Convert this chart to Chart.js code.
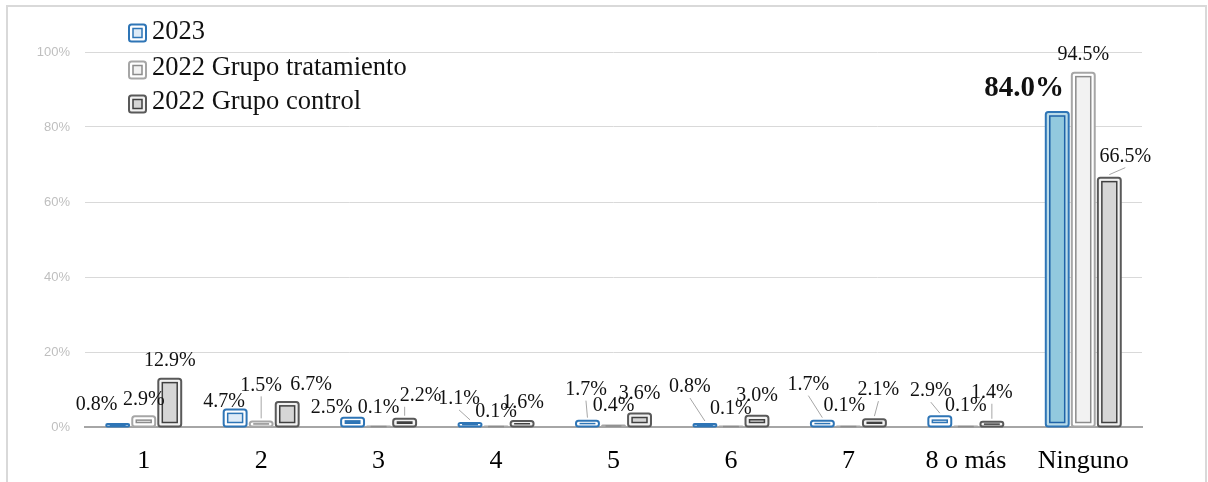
<!DOCTYPE html>
<html>
<head>
<meta charset="utf-8">
<script src="https://cdn.jsdelivr.net/npm/chart.js@4"></script>
<style>
  html, body { margin: 0; padding: 0; background: #ffffff; }
  #wrap { position: relative; width: 1208px; height: 482px; overflow: hidden; }
  #frame { position: absolute; left: 6px; top: 5px; width: 1201px; height: 540px;
           border: 2px solid #d9d9d9; box-sizing: border-box; }
  canvas { position: absolute; left: 0; top: 0; }
</style>
</head>
<body>
<div id="wrap">
  <div id="frame"></div>
  <canvas id="chart" width="1208" height="482"></canvas>
</div>
<script>
// Categories and series values (percent)
const categories = ['1', '2', '3', '4', '5', '6', '7', '8 o más', 'Ninguno'];
const seriesNames = ['2023', '2022 Grupo tratamiento', '2022 Grupo control'];
const values2023 = [0.8, 4.7, 2.5, 1.1, 1.7, 0.8, 1.7, 2.9, 84.0];
const valuesTratamiento = [2.9, 1.5, 0.1, 0.1, 0.4, 0.1, 0.1, 0.1, 94.5];
const valuesControl = [12.9, 6.7, 2.2, 1.6, 3.6, 3.0, 2.1, 1.4, 66.5];
const yTickValues = [0, 20, 40, 60, 80, 100];

// Value-label placement relative to the top centre of each bar [dx, dy]
const labelShift2023 = [[-21, -19], [-11, -8], [-21, -10], [-11, -24], [-1.5, -31], [-15, -37], [-14, -36], [-9, -25], [-33, -23]];
const labelShiftTratamiento = [[0, -16], [0, -36], [0, -19], [0, -15], [0, -19.5], [0, -18], [-4, -21], [0, -21], [0, -18]];
const labelShiftControl = [[0, -18], [24, -17], [16, -23], [1, -18], [0, -19.5], [0, -20], [4, -29], [0, -29], [16, -21]];
// Leader lines: null = none, number = horizontal start offset from label centre
const leader2023 = [null, null, null, 0, 0, 0, 0, 0, null];
const leaderTratamiento = [null, 0, null, null, null, null, null, null, null];
const leaderControl = [null, null, -16, null, null, null, 0, 0, 0];

// Bar look: outer frame, gap, inner frame, inner fill
const styles = [
  { outer: '#2e75b6', gap: '#ffffff', inner: '#2e75b6', fill: '#deebf7' },
  { outer: '#a6a6a6', gap: '#ffffff', inner: '#8c8c8c', fill: '#f2f2f2' },
  { outer: '#595959', gap: '#f2f2f2', inner: '#404040', fill: '#d6d6d6' }
];
// Highlighted "Ninguno" bar of 2023
const highlight = { dataset: 0, index: 8, gap: '#b9dbe9', inner: '#1f63a8', fill: '#92c9de' };

const SERIF = '"Liberation Serif", "DejaVu Serif", serif';

function styleFor(di, i) {
  const s = Object.assign({}, styles[di]);
  if (di === highlight.dataset && i === highlight.index) {
    s.gap = highlight.gap; s.inner = highlight.inner; s.fill = highlight.fill;
  }
  return s;
}

// Draws the double-framed bars on top of the library's bar geometry
const framedBars = {
  id: 'framedBars',
  afterDatasetsDraw(chart) {
    const ctx = chart.ctx;
    ctx.save();
    chart.data.datasets.forEach((ds, di) => {
      const meta = chart.getDatasetMeta(di);
      meta.data.forEach((bar, i) => {
        const p = bar.getProps(['x', 'y', 'base', 'width'], true);
        const st = styleFor(di, i);
        const left = p.x - p.width / 2;
        const top = Math.min(p.y, p.base);
        const h = Math.abs(p.base - p.y);
        // gap
        ctx.fillStyle = st.gap;
        ctx.fillRect(left, top, p.width, h);
        // outer frame
        ctx.lineWidth = 2;
        ctx.strokeStyle = st.outer;
        ctx.beginPath();
        ctx.roundRect(left, top, p.width, h, Math.min(2.5, h / 2 + 1));
        ctx.stroke();
        // inner frame
        if (h > 9) {
          ctx.fillStyle = st.fill;
          ctx.fillRect(left + 4, top + 4, p.width - 8, h - 8);
          ctx.lineWidth = 1.5;
          ctx.strokeStyle = st.inner;
          ctx.strokeRect(left + 4, top + 4, p.width - 8, h - 8);
        } else {
          const ih = Math.max(1.5, h - 5);
          ctx.fillStyle = st.inner;
          ctx.fillRect(left + 3.5, top + h / 2 - ih / 2, p.width - 7, ih);
        }
      });
    });
    ctx.restore();
  }
};

// Value labels with optional leader lines
const valueLabels = {
  id: 'valueLabels',
  afterDatasetsDraw(chart) {
    const ctx = chart.ctx;
    const shifts = [labelShift2023, labelShiftTratamiento, labelShiftControl];
    const leaders = [leader2023, leaderTratamiento, leaderControl];
    ctx.save();
    ctx.textAlign = 'center';
    ctx.textBaseline = 'middle';
    chart.data.datasets.forEach((ds, di) => {
      const meta = chart.getDatasetMeta(di);
      meta.data.forEach((bar, i) => {
        const p = bar.getProps(['x', 'y'], true);
        const cx = p.x + shifts[di][i][0];
        const cy = p.y + shifts[di][i][1];
        const lead = leaders[di][i];
        if (lead !== null) {
          ctx.strokeStyle = '#a6a6a6';
          ctx.lineWidth = 1;
          ctx.beginPath();
          ctx.moveTo(cx + lead, cy + 11);
          ctx.lineTo(p.x, p.y - 3);
          ctx.stroke();
        }
        const strong = di === highlight.dataset && i === highlight.index;
        ctx.font = strong ? 'bold 29px ' + SERIF : '20px ' + SERIF;
        ctx.fillStyle = '#111111';
        ctx.fillText(ds.data[i].toFixed(1) + '%', cx, cy);
      });
    });
    ctx.restore();
  }
};

// Stacked legend in the upper-left of the plot
const stackedLegend = {
  id: 'stackedLegend',
  afterDraw(chart) {
    const ctx = chart.ctx;
    const rows = [
      { box: 33, text: 39 },
      { box: 70, text: 75 },
      { box: 104, text: 109 }
    ];
    ctx.save();
    chart.data.datasets.forEach((ds, di) => {
      const st = styles[di];
      const bx = 129, size = 17, by = rows[di].box - size / 2;
      ctx.fillStyle = st.gap;
      ctx.fillRect(bx, by, size, size);
      ctx.lineWidth = 2;
      ctx.strokeStyle = st.outer;
      ctx.beginPath();
      ctx.roundRect(bx, by, size, size, 2.5);
      ctx.stroke();
      ctx.fillStyle = st.fill;
      ctx.fillRect(bx + 4, by + 4, size - 8, size - 8);
      ctx.lineWidth = 1.5;
      ctx.strokeStyle = st.inner;
      ctx.strokeRect(bx + 4, by + 4, size - 8, size - 8);
      ctx.font = '26.5px ' + SERIF;
      ctx.fillStyle = '#111111';
      ctx.textAlign = 'left';
      ctx.textBaseline = 'alphabetic';
      ctx.fillText(ds.label, 152, rows[di].text);
    });
    ctx.restore();
  }
};

const seriesValues = [values2023, valuesTratamiento, valuesControl];

new Chart(document.getElementById('chart'), {
  type: 'bar',
  data: {
    labels: categories,
    datasets: seriesNames.map((name, di) => ({
      label: name,
      data: seriesValues[di],
      backgroundColor: 'rgba(0,0,0,0)',
      borderWidth: 0,
      categoryPercentage: 0.665,
      barPercentage: 0.88
    }))
  },
  options: {
    responsive: false,
    animation: false,
    devicePixelRatio: 1,
    layout: { padding: { top: 52, right: 66, bottom: 0, left: 0 } },
    plugins: {
      legend: { display: false },
      tooltip: { enabled: false }
    },
    scales: {
      x: {
        grid: { display: false, drawTicks: false },
        border: { display: true, color: '#a6a6a6', width: 2 },
        ticks: {
          color: '#000000',
          font: { family: SERIF, size: 26 },
          padding: 19,
          maxRotation: 0,
          autoSkip: false
        },
        afterFit(scale) { scale.height = 55; }
      },
      y: {
        min: 0,
        max: 100,
        afterBuildTicks(scale) { scale.ticks = yTickValues.map(v => ({ value: v })); },
        grid: {
          color: ctx => (ctx.tick && ctx.tick.value === 0 ? 'rgba(0,0,0,0)' : '#d9d9d9'),
          lineWidth: 1,
          drawTicks: false
        },
        border: { display: false },
        ticks: {
          color: '#bfbfbf',
          font: { family: '"Liberation Sans", Arial, sans-serif', size: 13 },
          padding: 15,
          callback: v => v + '%'
        },
        afterFit(scale) { scale.width = 85; }
      }
    }
  },
  plugins: [framedBars, valueLabels, stackedLegend]
});
</script>
</body>
</html>
